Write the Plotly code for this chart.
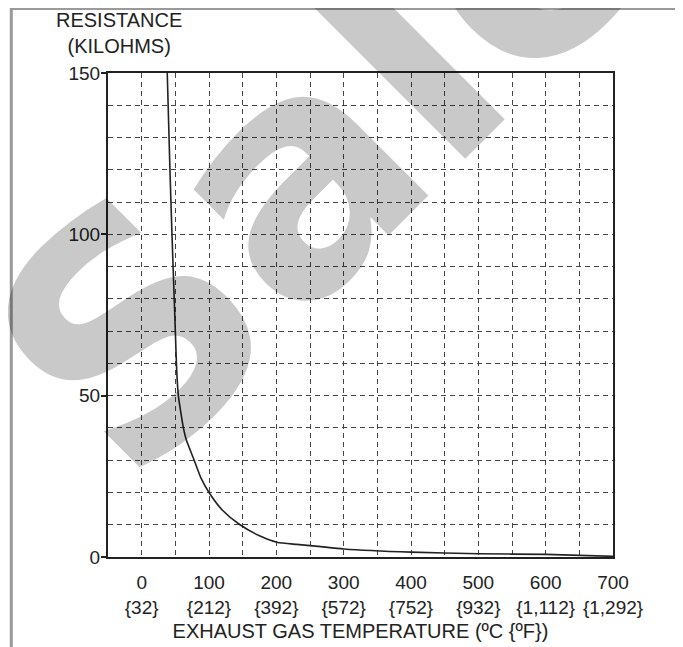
import plotly.graph_objects as go

# ---- data ----
temp_c = [38, 40, 42, 45, 48, 50, 52, 54.5, 58, 62, 66, 78, 88, 100, 120, 146, 175, 201, 230, 262, 300, 400, 500, 600, 700]
resistance_kohm = [150, 135, 120, 100, 82, 70, 58, 50, 45, 40, 36.5, 30, 24.5, 20, 14.5, 10, 6.6, 4.6, 3.9, 3.3, 2.5, 1.5, 1.0, 0.8, 0.2]

x_tick_c = [0, 100, 200, 300, 400, 500, 600, 700]
x_tick_f = ["{32}", "{212}", "{392}", "{572}", "{752}", "{932}", "{1,112}", "{1,292}"]
x_minor = [50, 150, 250, 350, 450, 550, 650]
y_ticks = [0, 50, 100, 150]
y_minor = [10, 20, 30, 40, 60, 70, 80, 90, 110, 120, 130, 140]

FONT = "Liberation Sans, Arial, sans-serif"
GRID = "#444444"

# plot area in screen pixels (page has an 8px body offset)
PL, PT, PW, PH = 108, 73, 505, 484
OFF = 8

def px(xp):
    return (xp - PL) / PW

def py(yp):
    return (PT + PH - yp) / PH

fig = go.Figure()
fig.add_trace(go.Scatter(
    x=temp_c, y=resistance_kohm, mode="lines",
    line=dict(color="#222222", width=1.6, shape="spline", smoothing=0.6),
    hoverinfo="skip", showlegend=False,
))

fig.update_layout(
    width=683, height=647,
    margin=dict(l=PL - OFF, r=683 - (PL - OFF) - PW, t=PT - OFF, b=647 - (PT - OFF) - PH),
    paper_bgcolor="white", plot_bgcolor="white",
    font=dict(family=FONT, size=19, color="#222222"),
    showlegend=False,
)

fig.update_xaxes(
    range=[-50, 700],
    tickmode="array", tickvals=x_tick_c,
    ticktext=[f"{c}<br>{f}" for c, f in zip(x_tick_c, x_tick_f)],
    ticks="", ticklabelstandoff=7,
    showline=True, linewidth=2, linecolor="#222222", mirror=True,
    showgrid=True, gridcolor=GRID, gridwidth=1.2, griddash="5px,4px",
    zeroline=False,
    minor=dict(tickmode="array", tickvals=x_minor, showgrid=True,
               gridcolor=GRID, gridwidth=1.2, griddash="5px,4px", ticks=""),
    title=dict(text="EXHAUST GAS TEMPERATURE (ºC {ºF})", font=dict(size=20), standoff=7),
)
fig.update_yaxes(
    range=[0, 150],
    tickmode="array", tickvals=y_ticks,
    ticks="outside", ticklen=5, tickcolor="#222222", tickwidth=1.5,
    ticklabelstandoff=-3,
    showline=True, linewidth=2, linecolor="#222222", mirror=True,
    showgrid=True, gridcolor=GRID, gridwidth=1.2, griddash="5px,4px",
    zeroline=False,
    minor=dict(tickmode="array", tickvals=y_minor, showgrid=True,
               gridcolor=GRID, gridwidth=1.2, griddash="5px,4px", ticks=""),
)

# y-axis caption at top-left
fig.add_annotation(
    text="RESISTANCE<br>(KILOHMS)", xref="paper", yref="paper",
    x=px(119), y=py(33), xanchor="center", yanchor="middle",
    showarrow=False, font=dict(size=20, family=FONT, color="#222222"),
)

# watermark
fig.add_annotation(
    text="<b>Sale</b>", xref="paper", yref="paper",
    x=px(325), y=py(142), xanchor="center", yanchor="middle",
    textangle=-45, showarrow=False,
    font=dict(size=320, family="DejaVu Sans", color="rgba(0,0,0,0.21)"),
)

# page frame (top and left grey rules)
fig.add_shape(type="line", xref="paper", yref="paper",
              x0=px(11), x1=px(700), y0=py(8.5), y1=py(8.5),
              line=dict(color="#9a9a9a", width=3))
fig.add_shape(type="line", xref="paper", yref="paper",
              x0=px(11.3), x1=px(11.3), y0=py(7), y1=py(660),
              line=dict(color="#9a9a9a", width=3))

fig.write_html("out.html")
